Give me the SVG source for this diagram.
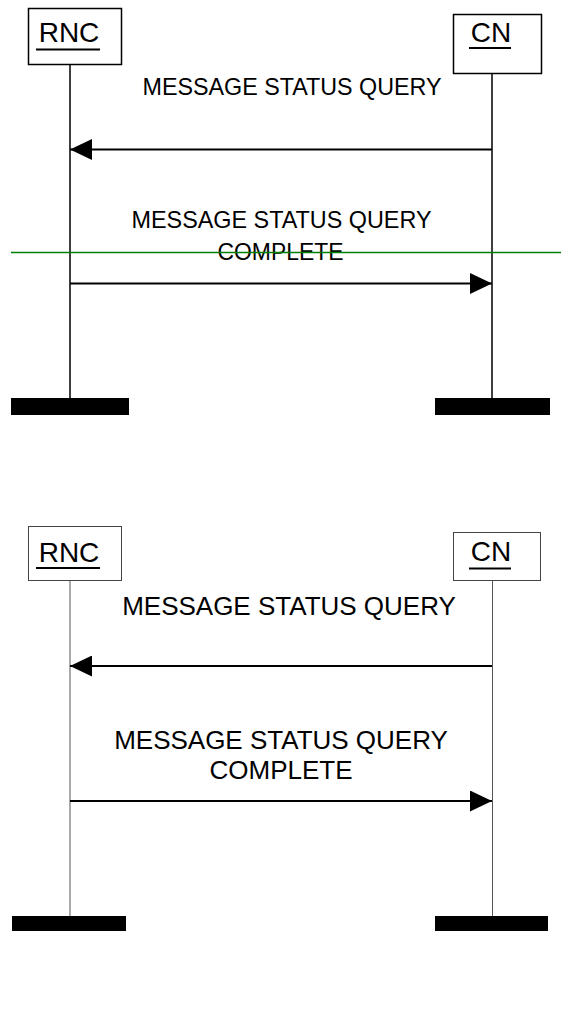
<svg xmlns="http://www.w3.org/2000/svg" width="561" height="1016" viewBox="0 0 561 1016">
<style>
text{font-family:"Liberation Sans",Arial,sans-serif;fill:#000;text-anchor:middle}
.t1 .box{fill:#fff;stroke:#000;stroke-width:1.5}
.t2 .box{fill:#fff;stroke:#444;stroke-width:1}
.ent{font-size:28px}
.lab1{font-size:24.5px}
.lab2{font-size:26px}
.ul{stroke:#000;stroke-width:2}
.life1{stroke:#000;stroke-width:1.5}
.life2{stroke:#555;stroke-width:1}
.msg{stroke:#000;stroke-width:1.8;fill:none}
.bar{fill:#000}
</style>
<defs>
<marker id="ah" viewBox="0 0 22 21" refX="22" refY="10.5" markerWidth="22" markerHeight="21" markerUnits="userSpaceOnUse" orient="auto">
<path d="M0,0 L22,10.5 L0,21 Z" fill="#000"/>
</marker>
</defs>
<rect width="561" height="1016" fill="#fff"/>

<g class="t1">
<g id="rnc1">
<rect class="box" x="28.5" y="8.5" width="93" height="56"/>
<line class="life1" x1="70" y1="64.5" x2="70" y2="398"/>
<text class="ent" x="69" y="42">RNC</text>
<line class="ul" x1="36" y1="49.5" x2="100" y2="49.5"/>
<rect class="bar" x="11" y="398" width="118" height="17"/>
</g>
<g id="cn1">
<rect class="box" x="453.5" y="14.5" width="88" height="59"/>
<line class="life1" x1="492" y1="73.5" x2="492" y2="398"/>
<text class="ent" x="491" y="42">CN</text>
<line class="ul" x1="469" y1="48" x2="511" y2="48"/>
<rect class="bar" x="435" y="398" width="115" height="17"/>
</g>
<g id="conn1">
<line class="msg" x1="492" y1="149.5" x2="70" y2="149.5" marker-end="url(#ah)"/>
<text class="lab1" x="292" y="95" textLength="299" lengthAdjust="spacingAndGlyphs">MESSAGE STATUS QUERY</text>
<line class="msg" x1="70" y1="283.5" x2="492" y2="283.5" marker-end="url(#ah)"/>
<text class="lab1" x="281.5" y="228" textLength="300" lengthAdjust="spacingAndGlyphs">MESSAGE STATUS QUERY</text>
<text class="lab1" x="280.5" y="259.5" textLength="126" lengthAdjust="spacingAndGlyphs">COMPLETE</text>
</g>
<line id="guide" x1="11" y1="252.5" x2="561" y2="252.5" stroke="#008000" stroke-width="1.5"/>
</g>

<g class="t2">
<g id="rnc2">
<rect class="box" x="28.5" y="526.5" width="93" height="54"/>
<line class="life2" x1="70" y1="580.5" x2="70" y2="916"/>
<text class="ent" x="69" y="562">RNC</text>
<line class="ul" x1="36" y1="568" x2="100" y2="568"/>
<rect class="bar" x="12" y="916" width="114" height="15"/>
</g>
<g id="cn2">
<rect class="box" x="453.5" y="532.5" width="87" height="48"/>
<line class="life2" x1="492.5" y1="580.5" x2="492.5" y2="916"/>
<text class="ent" x="491" y="561">CN</text>
<line class="ul" x1="469" y1="568.5" x2="511" y2="568.5"/>
<rect class="bar" x="435" y="916" width="113" height="15"/>
</g>
<g id="conn2">
<line class="msg" x1="492" y1="666" x2="70" y2="666" marker-end="url(#ah)"/>
<text class="lab2" x="289" y="615">MESSAGE STATUS QUERY</text>
<line class="msg" x1="70" y1="801" x2="492" y2="801" marker-end="url(#ah)"/>
<text class="lab2" x="281" y="749">MESSAGE STATUS QUERY</text>
<text class="lab2" x="281" y="779">COMPLETE</text>
</g>
</g>
</svg>
